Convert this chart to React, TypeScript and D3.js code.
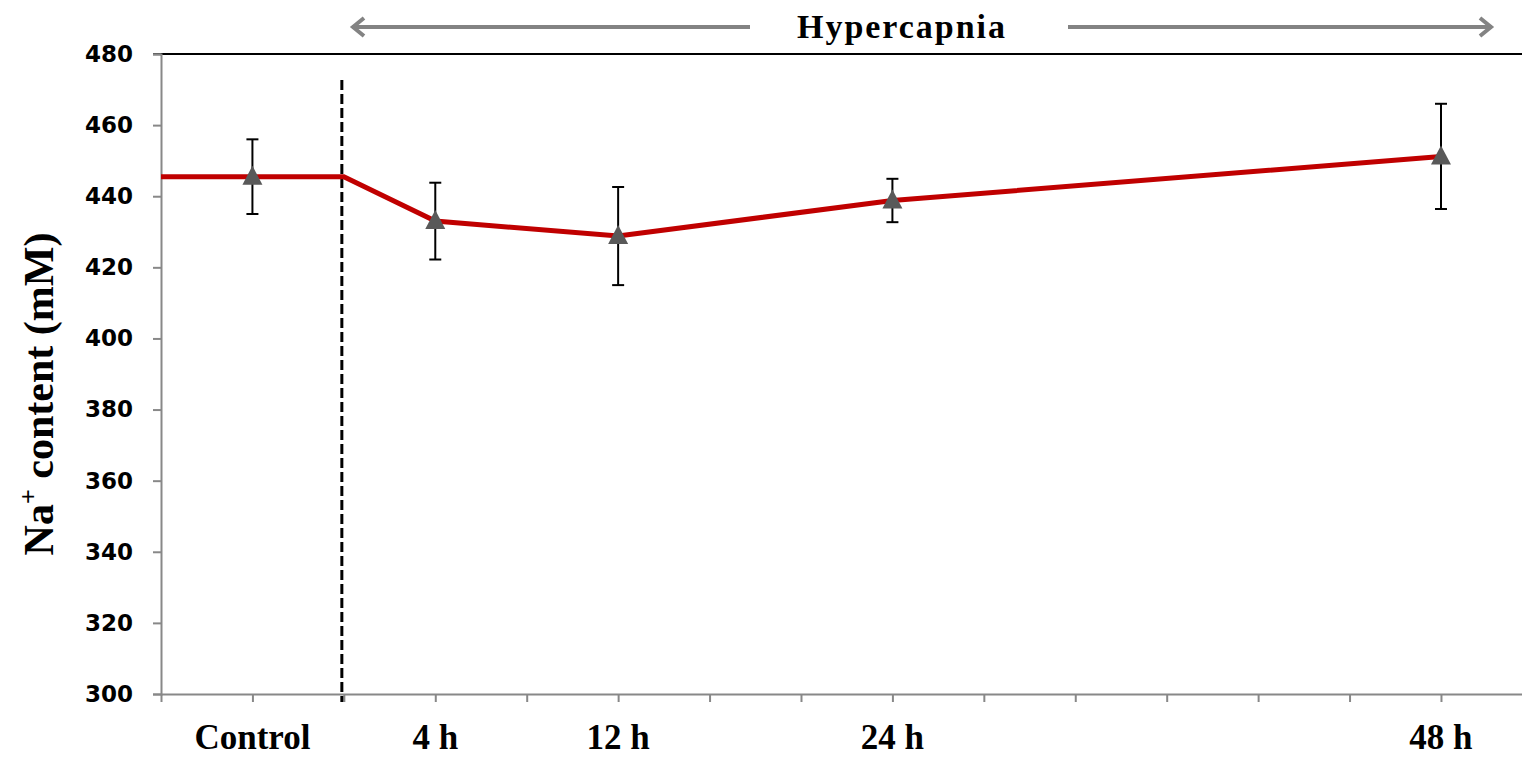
import React, { useRef, useEffect } from "react";
import * as d3 from "d3";

// time points (hours relative to onset of hypercapnia)
const categories = ["Control", "4 h", "12 h", "24 h", "48 h"];
const hours = [-4, 4, 12, 24, 48];
const means = [445.5, 433, 428.8, 438.8, 451.2];
const errors = [10.5, 10.8, 13.8, 6.1, 14.8];
const yTicks = [300, 320, 340, 360, 380, 400, 420, 440, 460, 480];
const onsetHour = 0;

const W = 1522;
const H = 759;

const App = () => {
  const ref = useRef<SVGSVGElement>(null);

  useEffect(() => {
    const svg = d3.select(ref.current);
    svg.selectAll("*").remove();

    const x = d3.scaleLinear().domain([-8, 52]).range([161, 1532.4]);
    const y = d3.scaleLinear().domain([300, 480]).range([694, 54]);

    // top border
    svg
      .append("line")
      .attr("x1", 153)
      .attr("x2", W)
      .attr("y1", y(480))
      .attr("y2", y(480))
      .attr("stroke", "#000")
      .attr("stroke-width", 2);

    // y axis
    const yAxis = svg
      .append("g")
      .attr("transform", `translate(${x(-8)},0)`)
      .call(d3.axisLeft(y).tickValues(yTicks).tickSize(8).tickPadding(20));
    yAxis.select(".domain").attr("stroke", "#888").attr("stroke-width", 2);
    yAxis.selectAll(".tick line").attr("stroke", "#888").attr("stroke-width", 2);
    yAxis
      .selectAll(".tick text")
      .attr("font-family", "DejaVu Sans")
      .attr("font-weight", "bold")
      .attr("font-size", 23)
      .attr("fill", "#000");

    // x axis (ticks every 4 h)
    const xTicks = d3.range(-8, 49, 4);
    const xAxis = svg
      .append("g")
      .attr("transform", `translate(0,${y(300)})`)
      .call(
        d3
          .axisBottom(x)
          .tickValues(xTicks)
          .tickSize(8)
          .tickFormat(() => "")
          .tickSizeOuter(0)
      );
    xAxis.select(".domain").attr("stroke", "#888").attr("stroke-width", 2);
    xAxis.selectAll(".tick line").attr("stroke", "#888").attr("stroke-width", 2);

    // category labels
    svg
      .append("g")
      .selectAll("text")
      .data(categories)
      .enter()
      .append("text")
      .attr("x", (d, i) => x(hours[i]))
      .attr("y", 749)
      .attr("text-anchor", "middle")
      .attr("font-family", "Liberation Serif")
      .attr("font-weight", "bold")
      .attr("font-size", 35)
      .text((d) => d);

    // y axis title
    const title = svg
      .append("text")
      .attr("transform", `translate(53,394) rotate(-90)`)
      .attr("text-anchor", "middle")
      .attr("font-family", "Liberation Serif")
      .attr("font-weight", "bold")
      .attr("font-size", 42);
    title.append("tspan").text("Na");
    title.append("tspan").attr("font-size", 26).attr("dy", -16).text("+");
    title.append("tspan").attr("dy", 16).text(" content (mM)");

    // onset dashed line
    svg
      .append("line")
      .attr("x1", x(onsetHour) - 2)
      .attr("x2", x(onsetHour) - 2)
      .attr("y1", 80)
      .attr("y2", 702)
      .attr("stroke", "#000")
      .attr("stroke-width", 3)
      .attr("stroke-dasharray", "10,4");

    // red mean line: control level held until onset
    const linePts = [
      [-8, means[0]],
      [onsetHour, means[0]],
      ...hours.slice(1).map((h, i) => [h, means[i + 1]]),
    ];
    svg
      .append("path")
      .datum(linePts)
      .attr("fill", "none")
      .attr("stroke", "#C00000")
      .attr("stroke-width", 5)
      .attr(
        "d",
        d3
          .line()
          .x((d) => x(d[0]))
          .y((d) => y(d[1]))
      );

    // error bars
    const eb = svg
      .append("g")
      .selectAll("g")
      .data(hours)
      .enter()
      .append("g")
      .attr("stroke", "#000")
      .attr("stroke-width", 2);
    eb.append("line")
      .attr("x1", (d) => x(d))
      .attr("x2", (d) => x(d))
      .attr("y1", (d, i) => y(means[i] + errors[i]))
      .attr("y2", (d, i) => y(means[i] - errors[i]));
    eb.append("line")
      .attr("x1", (d) => x(d) - 6)
      .attr("x2", (d) => x(d) + 6)
      .attr("y1", (d, i) => y(means[i] + errors[i]))
      .attr("y2", (d, i) => y(means[i] + errors[i]));
    eb.append("line")
      .attr("x1", (d) => x(d) - 6)
      .attr("x2", (d) => x(d) + 6)
      .attr("y1", (d, i) => y(means[i] - errors[i]))
      .attr("y2", (d, i) => y(means[i] - errors[i]));

    // triangle markers
    svg
      .append("g")
      .selectAll("path")
      .data(hours)
      .enter()
      .append("path")
      .attr("transform", (d, i) => `translate(${x(d)},${y(means[i])})`)
      .attr("d", "M0,-11 L10,8 L-10,8 Z")
      .attr("fill", "#595959");

    // hypercapnia arrows
    const arrowY = 27;
    const gray = "#838383";
    svg
      .append("path")
      .attr("d", `M750,${arrowY} L353,${arrowY} M364,${arrowY - 9} L353,${arrowY} L364,${arrowY + 9}`)
      .attr("fill", "none")
      .attr("stroke", gray)
      .attr("stroke-width", 4);
    svg
      .append("path")
      .attr("d", `M1068,${arrowY} L1491,${arrowY} M1480,${arrowY - 9} L1491,${arrowY} L1480,${arrowY + 9}`)
      .attr("fill", "none")
      .attr("stroke", gray)
      .attr("stroke-width", 4);
    svg
      .append("text")
      .attr("x", 901)
      .attr("y", 38)
      .attr("text-anchor", "middle")
      .attr("font-family", "Liberation Serif")
      .attr("font-weight", "bold")
      .attr("font-size", 34)
      .attr("textLength", 208)
      .text("Hypercapnia");
  }, []);

  return (
    <svg
      ref={ref}
      width={W}
      height={H}
      style={{ position: "absolute", left: 0, top: 0, background: "#fff" }}
    />
  );
};

export default App;
